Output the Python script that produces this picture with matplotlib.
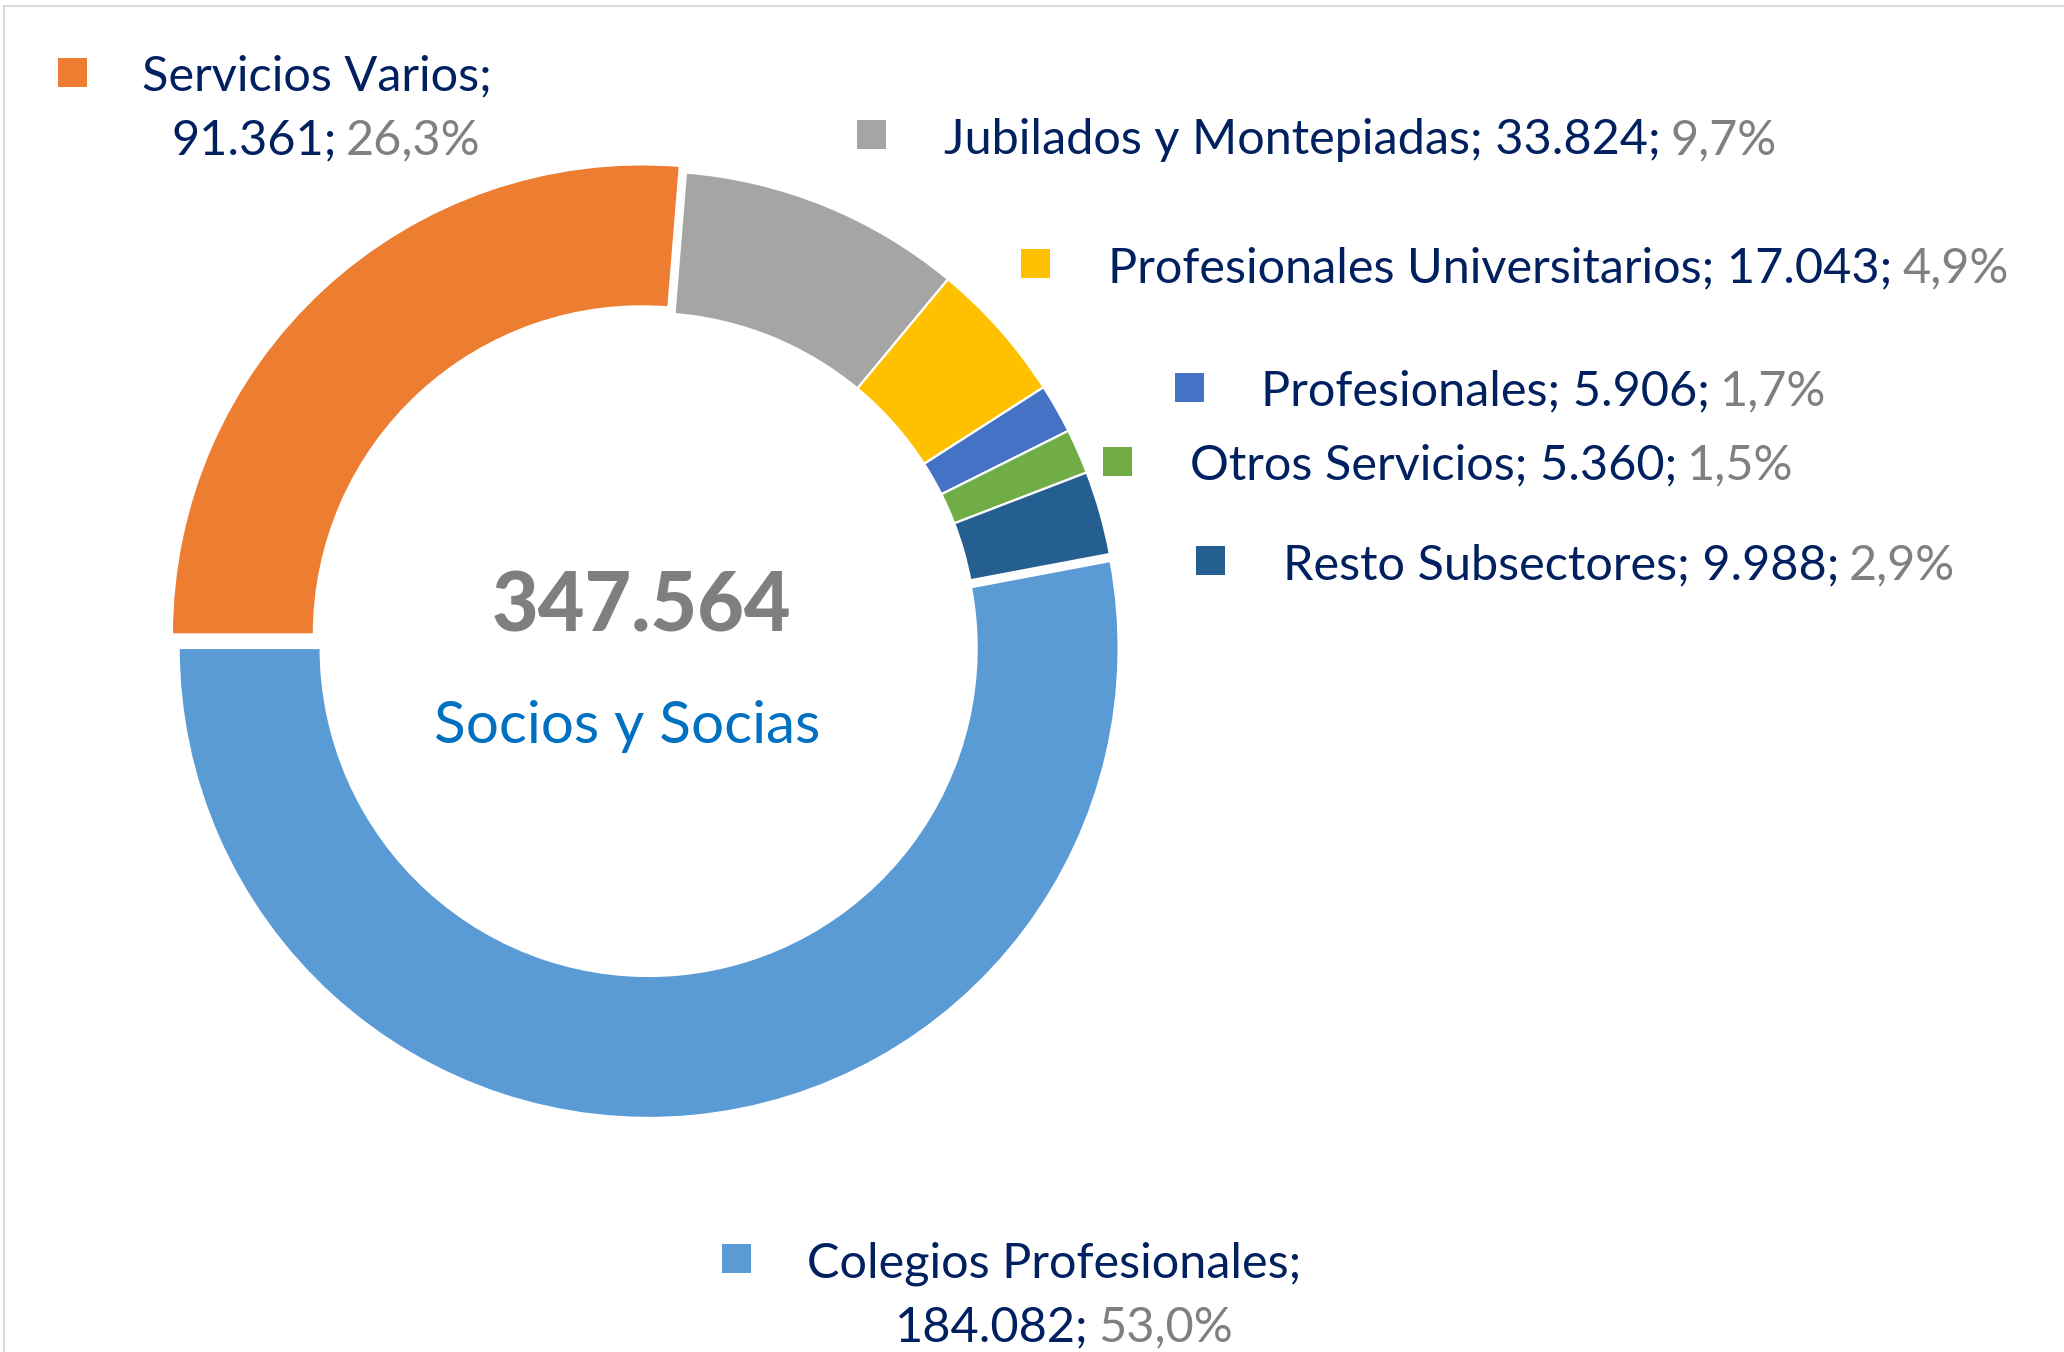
import matplotlib.pyplot as plt
from matplotlib.patches import Rectangle

W, H = 2064, 1352

labels = ["Servicios Varios", "Jubilados y Montepiadas", "Profesionales Universitarios",
          "Profesionales", "Otros Servicios", "Resto Subsectores", "Colegios Profesionales"]
socios = [91361, 33824, 17043, 5906, 5360, 9988, 184082]
pct_labels = ["26,3%", "9,7%", "4,9%", "1,7%", "1,5%", "2,9%", "53,0%"]
colors = ["#ED7D31", "#A5A5A5", "#FFC000", "#4472C4", "#70AD47", "#255E91", "#5B9BD5"]
total = sum(socios)

NAVY = "#002060"
GREY = "#808080"
FONT = "Lato"


def fmt(v):
    return f"{v:,}".replace(",", ".")


def fy(y):
    # pixel row from top -> data y
    return H - y


fig = plt.figure(figsize=(W / 100, H / 100), dpi=100)
ax = fig.add_axes([0, 0, 1, 1])

# donut
ax.pie(socios, colors=colors, startangle=180, counterclock=False,
       radius=470, center=(648, fy(641)), explode=[9, 0, 0, 0, 0, 0, 7],
       wedgeprops=dict(width=142, edgecolor="white", linewidth=1.6))
ax.set_xlim(0, W)
ax.set_ylim(0, H)
ax.set_aspect("equal")
ax.axis("off")

# chart frame (only top/left visible)
ax.plot([4, W], [fy(6), fy(6)], color="#D9D9D9", lw=1.5)
ax.plot([4, 4], [fy(6), 0], color="#D9D9D9", lw=1.5)

# centre text
ax.text(642, fy(631), fmt(total), ha="center", va="baseline", fontsize=58,
        fontweight="black", color="#7F7F7F", family=FONT)
ax.text(627, fy(743), "Socios y Socias", ha="center", va="baseline", fontsize=42,
        color="#0070C0", family=FONT)

# label placement: (square cx, square cy, text x, baseline)
label_pos = [
    (72, 72, 142, 90),
    (871, 134, 944, 154),
    (1035, 263, 1108, 282),
    (1189, 387, 1261, 405),
    (1117, 461, 1190, 479),
    (1210, 560, 1283, 579),
    (736, 1258, 807, 1277),
]
# second line start for the two-line labels
second_line_x = {0: 171, 6: 895}
FS = 35
SQ = 29

for i, (sx, sy, tx, by) in enumerate(label_pos):
    ax.add_patch(Rectangle((sx - SQ / 2, fy(sy) - SQ / 2), SQ, SQ, color=colors[i], lw=0))
    if i in second_line_x:
        ax.text(tx, fy(by), labels[i] + ";", ha="left", va="baseline",
                fontsize=FS, color=NAVY, family=FONT)
        t = ax.text(second_line_x[i], fy(by + 64), fmt(socios[i]) + ";", ha="left",
                    va="baseline", fontsize=FS, color=NAVY, family=FONT)
    else:
        t = ax.text(tx, fy(by), f"{labels[i]}; {fmt(socios[i])};", ha="left",
                    va="baseline", fontsize=FS, color=NAVY, family=FONT)
    ax.annotate(pct_labels[i], xy=(1, 0), xycoords=t, xytext=(7, 0),
                textcoords="offset points", ha="left", va="bottom",
                fontsize=FS, color=GREY, family=FONT)

fig.savefig("out.png", dpi=100, facecolor="white")
